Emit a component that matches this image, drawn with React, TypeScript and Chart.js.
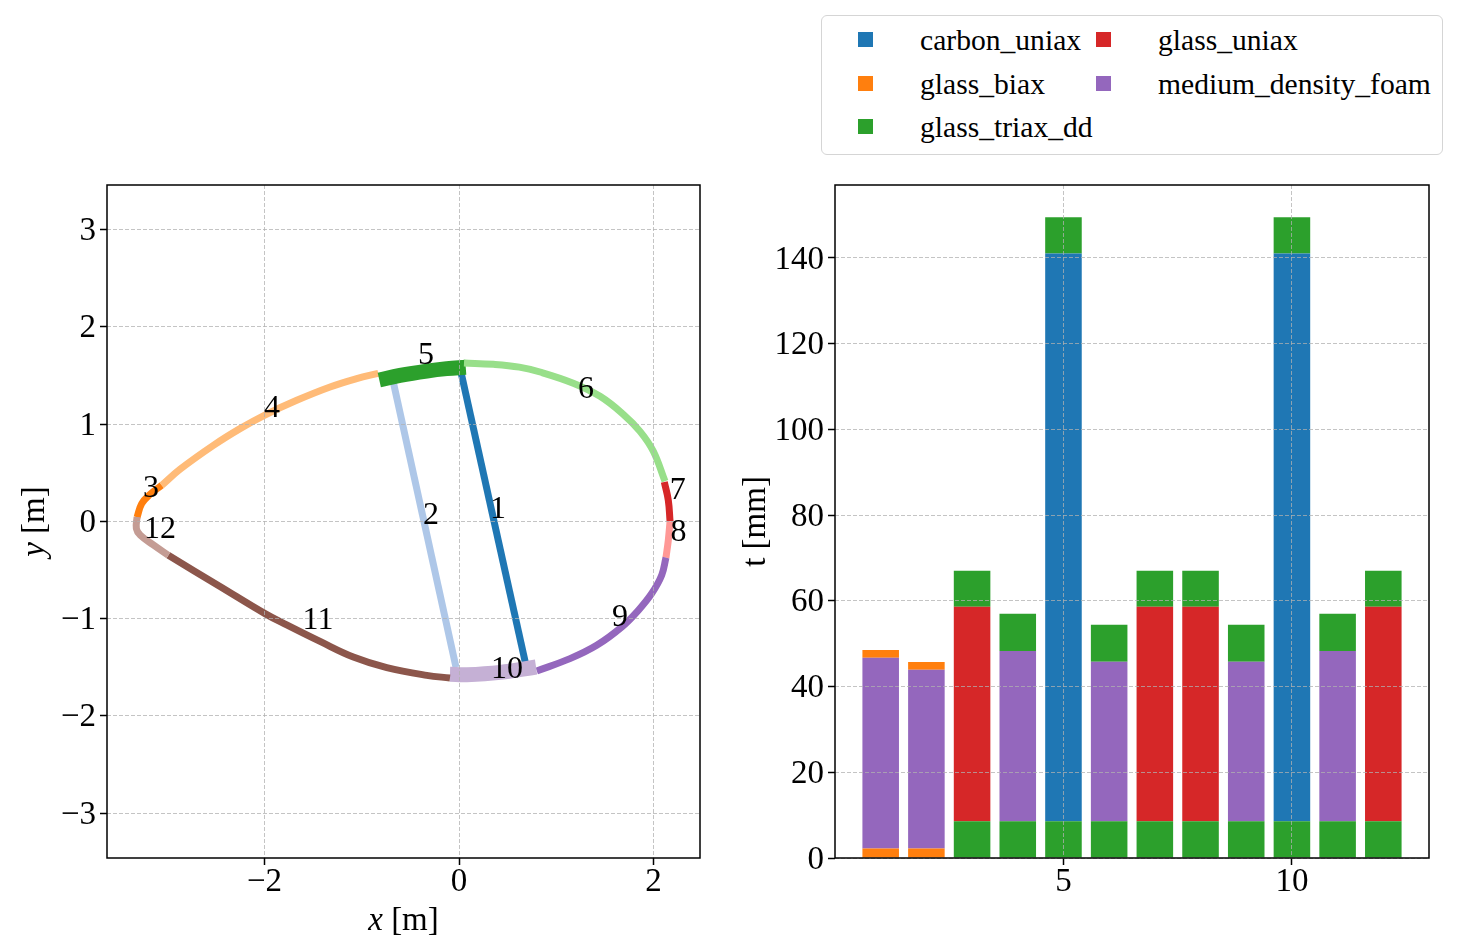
import { useEffect, useRef } from 'react';
import { Chart, registerables } from 'chart.js';

Chart.register(...registerables);

const FONT = '"Liberation Serif", serif';

// Cross-section segments, in metres
const seg1 = [[0.021, 1.53], [0.686, -1.47]];
const seg2 = [[-0.68, 1.45], [-0.031, -1.5]];
const seg3 = [[-3.311, 0.041], [-3.263, 0.182], [-3.177, 0.278], [-3.057, 0.37]];
const seg4 = [[-3.057, 0.37], [-2.869, 0.535], [-2.526, 0.781], [-2.252, 0.953], [-2.002, 1.09], [-1.669, 1.244], [-1.326, 1.381], [-1.052, 1.467], [-0.83, 1.522]];
const seg5 = [[-0.82, 1.453], [-0.607, 1.5], [-0.332, 1.545], [-0.126, 1.57], [0.069, 1.585]];
const seg6 = [[0.051, 1.628], [0.353, 1.614], [0.62, 1.585], [0.833, 1.535], [1.175, 1.42], [1.45, 1.285], [1.689, 1.1], [1.861, 0.925], [1.998, 0.72], [2.118, 0.411]];
const seg7 = [[2.111, 0.404], [2.152, 0.216], [2.17, 0.0]];
const seg8 = [[2.17, 0.0], [2.152, -0.195], [2.128, -0.374]];
const seg9 = [[2.128, -0.374], [2.084, -0.555], [1.981, -0.743], [1.844, -0.915], [1.673, -1.087], [1.416, -1.275], [1.141, -1.412], [0.799, -1.539]];
const seg10 = [[0.792, -1.498], [0.422, -1.553], [0.079, -1.577], [-0.093, -1.573]];
const seg11 = [[-0.093, -1.611], [-0.332, -1.584], [-0.743, -1.504], [-1.087, -1.395], [-1.429, -1.235], [-1.772, -1.065], [-1.995, -0.949], [-2.458, -0.67], [-2.989, -0.35]];
const seg12 = [[-2.989, -0.35], [-3.14, -0.245], [-3.277, -0.144], [-3.318, -0.075], [-3.311, 0.044]];

const segments = [seg1, seg2, seg3, seg4, seg5, seg6, seg7, seg8, seg9, seg10, seg11, seg12];
const segmentColors = ['#1f77b4', '#aec7e8', '#ff7f0e', '#ffbb78', '#2ca02c', '#98df8a', '#d62728', '#ff9896', '#9467bd', '#c5b0d5', '#8c564b', '#c49c94'];
const segmentWidths = [7, 7, 7, 7, 15, 7, 7, 7, 7, 15, 7, 7];
const labelSpots = [[0.401, 0.123], [-0.288, 0.062], [-3.167, 0.339], [-1.923, 1.156], [-0.339, 1.707], [1.306, 1.357], [2.248, 0.319], [2.258, -0.113], [1.655, -0.987], [0.494, -1.524], [-1.45, -1.018], [-3.075, -0.082]];

const xTicks = [-2, 0, 2];
const yTicks = [-3, -2, -1, 0, 1, 2, 3];

// Layup thickness per segment, in mm
const sections = [1, 2, 3, 4, 5, 6, 7, 8, 9, 10, 11, 12];
const biaxInner = [2.2, 2.2, 0, 0, 0, 0, 0, 0, 0, 0, 0, 0];
const triaxInner = [0, 0, 8.6, 8.6, 8.6, 8.6, 8.6, 8.6, 8.6, 8.6, 8.6, 8.6];
const carbon = [0, 0, 0, 0, 132.4, 0, 0, 0, 0, 132.4, 0, 0];
const uniax = [0, 0, 50, 0, 0, 0, 50, 50, 0, 0, 0, 50];
const foam = [44.5, 41.7, 0, 39.7, 0, 37.2, 0, 0, 37.2, 0, 39.7, 0];
const biaxOuter = [1.8, 1.8, 0, 0, 0, 0, 0, 0, 0, 0, 0, 0];
const triaxOuter = [0, 0, 8.4, 8.7, 8.5, 8.6, 8.4, 8.4, 8.6, 8.5, 8.7, 8.4];
const barTicksX = [5, 10];
const barTicksY = [0, 20, 40, 60, 80, 100, 120, 140];

const legendNames = ['carbon_uniax', 'glass_biax', 'glass_triax_dd', 'glass_uniax', 'medium_density_foam'];
const legendColors = ['#1f77b4', '#ff7f0e', '#2ca02c', '#d62728', '#9467bd'];

const GRID = 'rgba(176,176,176,0.75)';

const minus = (v: number) => (v < 0 ? '\u2212' + Math.abs(v) : String(v));

const axis = (ticks: number[], min: number, max: number, size: number, horizontal: boolean) => ({
  type: 'linear',
  min,
  max,
  offset: false,
  afterBuildTicks: (s: any) => { s.ticks = ticks.map(value => ({ value })); },
  afterFit: (s: any) => {
    if (horizontal) s.height = size; else s.width = size;
    s.paddingTop = s.paddingBottom = s.paddingLeft = s.paddingRight = 0;
  },
  grid: { color: GRID, lineWidth: 1, offset: false, z: 1, tickColor: '#000', tickWidth: 1.5, tickLength: 7, tickBorderDash: [] },
  border: { display: false, dash: [4, 2] },
  ticks: {
    color: '#000',
    padding: horizontal ? -2 : 4,
    labelOffset: horizontal ? 0 : 2,
    maxRotation: 0,
    autoSkip: false,
    font: { family: FONT, size: 33 },
    callback: (v: any) => minus(Number(v)),
  },
});

// Black frame and axis titles, which mix italic and roman
const frame = (titles: (c: any, ctx: CanvasRenderingContext2D) => void) => ({
  id: 'frame',
  afterDraw(c: any) {
    const { ctx, chartArea: a } = c;
    ctx.save();
    ctx.strokeStyle = '#000';
    ctx.lineWidth = 1.5;
    ctx.setLineDash([]);
    ctx.strokeRect(a.left, a.top, a.right - a.left, a.bottom - a.top);
    ctx.fillStyle = '#000';
    titles(c, ctx);
    ctx.restore();
  },
});

const mixedTitle = (ctx: CanvasRenderingContext2D, cx: number, cy: number, rotate: boolean, sym: string, rest: string) => {
  ctx.save();
  ctx.translate(cx, cy);
  if (rotate) ctx.rotate(-Math.PI / 2);
  ctx.textBaseline = 'middle';
  ctx.textAlign = 'left';
  ctx.font = `italic 33px ${FONT}`;
  const w1 = ctx.measureText(sym).width;
  ctx.font = `33px ${FONT}`;
  const w2 = ctx.measureText(rest).width;
  ctx.font = `italic 33px ${FONT}`;
  ctx.fillText(sym, -(w1 + w2) / 2, 0);
  ctx.font = `33px ${FONT}`;
  ctx.fillText(rest, -(w1 + w2) / 2 + w1, 0);
  ctx.restore();
};

const stack = (values: number[], color: string) => ({
  data: values.map((y, i) => ({ x: sections[i], y })),
  backgroundColor: color,
  borderWidth: 0,
  categoryPercentage: 1,
  barPercentage: 0.8,
});

export default function App() {
  const leftRef = useRef<HTMLCanvasElement>(null);
  const rightRef = useRef<HTMLCanvasElement>(null);

  useEffect(() => {
    const left = new Chart(leftRef.current!, {
      type: 'scatter',
      data: {
        datasets: segments.map((seg, i) => ({
          data: seg.map(([x, y]) => ({ x, y })),
          showLine: true,
          pointRadius: 0,
          borderColor: segmentColors[i],
          borderWidth: segmentWidths[i],
          borderCapStyle: 'butt',
          borderJoinStyle: 'round',
          tension: 0.4,
          order: segments.length - i,
        })),
      },
      options: {
        responsive: false,
        animation: false,
        layout: { padding: { top: 10, right: 20, left: 0, bottom: 0 } },
        plugins: { legend: { display: false }, tooltip: { enabled: false } },
        scales: {
          x: axis(xTicks, -3.62, 2.478, 94, true),
          y: axis(yTicks, -3.462, 3.458, 107, false),
        },
      } as any,
      plugins: [frame((c, ctx) => {
        const a = c.chartArea;
        ctx.font = `32px ${FONT}`;
        ctx.textAlign = 'center';
        ctx.textBaseline = 'middle';
        labelSpots.forEach(([x, y], i) => {
          ctx.fillText(String(i + 1), c.scales.x.getPixelForValue(x), c.scales.y.getPixelForValue(y));
        });
        mixedTitle(ctx, (a.left + a.right) / 2, a.bottom + 63, false, 'x', ' [m]');
        mixedTitle(ctx, a.left - 72, (a.top + a.bottom) / 2, true, 'y', ' [m]');
      })],
    } as any);

    const right = new Chart(rightRef.current!, {
      type: 'bar',
      data: {
        datasets: [
          stack(biaxInner, legendColors[1]),
          stack(triaxInner, legendColors[2]),
          stack(carbon, legendColors[0]),
          stack(uniax, legendColors[3]),
          stack(foam, legendColors[4]),
          stack(biaxOuter, legendColors[1]),
          stack(triaxOuter, legendColors[2]),
        ],
      },
      options: {
        responsive: false,
        animation: false,
        layout: { padding: { top: 10, right: 30, left: 0, bottom: 0 } },
        plugins: { legend: { display: false }, tooltip: { enabled: false } },
        scales: {
          x: { ...axis(barTicksX, 0, 13, 94, true), stacked: true },
          y: { ...axis(barTicksY, 0, 157, 105, false), stacked: true },
        },
      } as any,
      plugins: [frame((c, ctx) => {
        const a = c.chartArea;
        mixedTitle(ctx, a.left - 79, (a.top + a.bottom) / 2, true, '', 't [mm]');
      })],
    } as any);

    return () => {
      left.destroy();
      right.destroy();
    };
  }, []);

  return (
    <div style={{ position: 'absolute', left: 0, top: 0, width: 1459, height: 952, overflow: 'hidden', background: '#fff', fontFamily: FONT }}>
      <canvas ref={leftRef} width={720} height={777} style={{ position: 'absolute', left: 0, top: 175, width: 720, height: 777 }} />
      <canvas ref={rightRef} width={729} height={777} style={{ position: 'absolute', left: 730, top: 175, width: 729, height: 777 }} />
      <div style={{ position: 'absolute', left: 821, top: 15, width: 620, height: 138, border: '1.5px solid #d5d5d5', borderRadius: 6, background: '#fff' }}>
        {legendNames.map((name, i) => {
          const col = i < 3 ? 0 : 1;
          const row = i < 3 ? i : i - 3;
          return (
            <div key={name}>
              <div style={{ position: 'absolute', left: 36 + col * 238, top: 16 + row * 43.5, width: 15, height: 15, background: legendColors[i] }} />
              <div style={{ position: 'absolute', left: 98 + col * 238, top: 5 + row * 43.5, fontSize: 29.6, lineHeight: '38px', color: '#000', whiteSpace: 'nowrap' }}>{name}</div>
            </div>
          );
        })}
      </div>
    </div>
  );
}
